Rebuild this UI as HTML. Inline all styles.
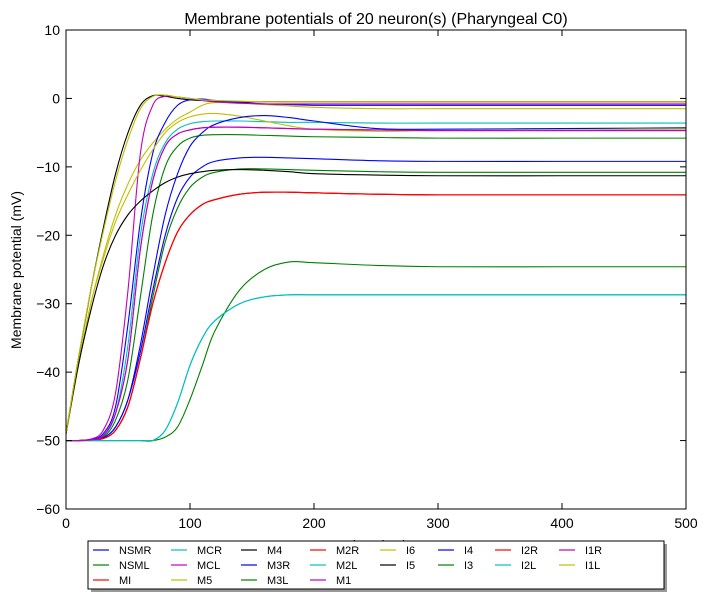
<!DOCTYPE html>
<html><head><meta charset="utf-8"><style>
body{margin:0;background:#fff;}
svg{display:block;font-family:"Liberation Sans",sans-serif;}
</style></head><body>
<svg id="chart" width="708" height="600">
<rect width="708" height="600" fill="#fff"/>
<text x="376" y="24" text-anchor="middle" font-size="16">Membrane potentials of 20 neuron(s) (Pharyngeal C0)</text>
<text x="376" y="550" text-anchor="middle" font-size="14">Time (ms)</text>
<text transform="translate(21,270) rotate(-90)" text-anchor="middle" font-size="14">Membrane potential (mV)</text>
<g id="plot"></g>
<g id="axes"></g>
<g id="legend"></g>
</svg>
<script>
const times = [0,10,20,30,40,50,60,70,80,90,100,110,120,140,160,180,200,250,300,400,500];
const seriesNames = ["NSMR","NSML","MI","MCR","MCL","M5","M4","M3R","M3L","M2R","M2L","M1","I6","I5","I4","I3","I2R","I2L","I1R","I1L"];
const seriesColors = ["#0000ff","#008000","#ff0000","#00bfbf","#bf00bf","#bfbf00","#000000","#0000ff","#008000","#ff0000","#00bfbf","#bf00bf","#bfbf00","#000000","#0000ff","#008000","#ff0000","#00bfbf","#bf00bf","#bfbf00"];
const vNSMR = [-50,-50,-49.9,-49.6,-48,-44,-37,-28,-20,-14.5,-11.5,-10,-9.2,-8.7,-8.6,-8.7,-8.8,-9.1,-9.2,-9.2,-9.2];
const vNSML = [-50,-50,-49.9,-49.7,-48.5,-45,-38,-29,-21,-16,-13,-11.5,-10.8,-10.3,-10.3,-10.4,-10.5,-10.7,-10.8,-10.8,-10.8];
const vMI = [-50,-50,-49.9,-49.7,-48.5,-45,-38,-30,-24,-19.5,-17,-15.5,-14.8,-14,-13.7,-13.7,-13.8,-14,-14.1,-14.1,-14.1];
const vMCR = [-50,-50,-49.9,-49.3,-46,-36,-20,-11,-6.5,-4.5,-3.7,-3.4,-3.3,-3.3,-3.4,-3.5,-3.5,-3.6,-3.6,-3.6,-3.6];
const vMCL = [-50,-50,-49.9,-49.3,-46,-38,-22,-12,-7,-5.2,-4.6,-4.3,-4.2,-4.2,-4.3,-4.4,-4.5,-4.6,-4.7,-4.7,-4.7];
const vM5 = [-49,-39,-30,-23,-17,-12.5,-9,-6.5,-4.5,-3,-2,-1,-0.6,-0.7,-0.9,-1.1,-1.3,-1.5,-1.5,-1.5,-1.5];
const vM4 = [-49,-38,-28,-19,-11,-5,-1,0.4,0.3,0,-0.2,-0.3,-0.4,-0.5,-0.5,-0.5,-0.5,-0.5,-0.5,-0.5,-0.5];
const vM3R = [-50,-50,-49.8,-49,-45,-33,-18,-8,-3.5,-1,-0.2,-0.1,-0.3,-0.6,-0.8,-0.9,-1,-1,-1,-1,-1];
const vM3L = [-50,-50,-49.9,-49.5,-47,-41,-29,-17,-10,-7,-5.8,-5.4,-5.3,-5.3,-5.4,-5.5,-5.6,-5.7,-5.8,-5.8,-5.8];
const vM2R = [-50,-50,-49.9,-49.7,-48.5,-45,-38,-30,-24,-19.5,-17,-15.5,-14.8,-14,-13.7,-13.7,-13.8,-14,-14.1,-14.1,-14.1];
const vM2L = [-50,-50,-50,-50,-50,-50,-50,-50,-48.5,-44.5,-39,-35,-32.5,-30,-29,-28.7,-28.7,-28.7,-28.7,-28.7,-28.7];
const vM1 = [-50,-50,-49.8,-48.5,-43,-28,-8,-1,0.3,0.2,0,-0.3,-0.5,-0.7,-0.8,-0.8,-0.8,-0.8,-0.8,-0.8,-0.8];
const vI6 = [-49,-39,-30,-23.5,-18,-14,-10.5,-7.5,-5,-3.5,-2.7,-2.3,-2.2,-2.6,-3.3,-4,-4.5,-4.8,-4.7,-4.6,-4.5];
const vI5 = [-49,-39,-31,-24.5,-20,-17,-15,-13.5,-12.3,-11.5,-11,-10.7,-10.5,-10.4,-10.5,-10.7,-11,-11.2,-11.3,-11.3,-11.3];
const vI4 = [-50,-50,-49.9,-49.6,-48,-44,-36,-26,-17,-11,-7,-5,-3.8,-2.8,-2.5,-2.8,-3.3,-4.4,-4.5,-4.4,-4.3];
const vI3 = [-50,-50,-50,-50,-50,-50,-50,-50,-49.5,-48,-44,-39,-34,-28,-25,-23.9,-24,-24.4,-24.6,-24.6,-24.6];
const vI2R = [-50,-50,-49.9,-49.7,-48.5,-45,-38,-30,-24,-19.5,-17,-15.5,-14.8,-14,-13.7,-13.7,-13.8,-14,-14.1,-14.1,-14.1];
const vI2L = [-50,-50,-50,-50,-50,-50,-50,-50,-48.5,-44.5,-39,-35,-32.5,-30,-29,-28.7,-28.7,-28.7,-28.7,-28.7,-28.7];
const vI1R = [-50,-50,-49.9,-49.3,-46,-38,-22,-12,-7,-5.2,-4.6,-4.3,-4.2,-4.2,-4.3,-4.4,-4.5,-4.6,-4.7,-4.7,-4.7];
const vI1L = [-49,-38,-28,-19.5,-12,-6,-1.5,0.3,0.5,0.2,0,-0.2,-0.3,-0.4,-0.5,-0.5,-0.5,-0.5,-0.5,-0.5,-0.5];
const seriesValues = [vNSMR,vNSML,vMI,vMCR,vMCL,vM5,vM4,vM3R,vM3L,vM2R,vM2L,vM1,vI6,vI5,vI4,vI3,vI2R,vI2L,vI1R,vI1L];
const xTicks = [0,100,200,300,400,500];
const yTicks = [10,0,-10,-20,-30,-40,-50,-60];

const NS="http://www.w3.org/2000/svg";
const L=66,R=686,T=30,B=509;
const xs=t=>L+(t-0)/(500-0)*(R-L);
const ys=v=>T+(10-v)/(10-(-60))*(B-T);
function mk(tag,attrs,parent){const e=document.createElementNS(NS,tag);for(const k in attrs)e.setAttribute(k,attrs[k]);parent.appendChild(e);return e;}
function pathFor(vals){
  const p=times.map((t,i)=>[xs(t),ys(vals[i])]);
  let d="M"+p[0][0].toFixed(2)+","+p[0][1].toFixed(2);
  for(let i=0;i<p.length-1;i++){
    const p0=p[Math.max(0,i-1)],p1=p[i],p2=p[i+1],p3=p[Math.min(p.length-1,i+2)];
    const c1=[p1[0]+(p2[0]-p0[0])/6,p1[1]+(p2[1]-p0[1])/6];
    const c2=[p2[0]-(p3[0]-p1[0])/6,p2[1]-(p3[1]-p1[1])/6];
    d+="C"+c1.map(n=>n.toFixed(2))+" "+c2.map(n=>n.toFixed(2))+" "+p2.map(n=>n.toFixed(2));
  }
  return d;
}
const plot=document.getElementById("plot");
const cp=mk("clipPath",{id:"clip"},plot);
mk("rect",{x:L,y:T,width:R-L,height:B-T},cp);
const lines=mk("g",{"clip-path":"url(#clip)"},plot);
seriesValues.forEach((vals,i)=>{
  const el=mk("path",{d:pathFor(vals),fill:"none",stroke:seriesColors[i],"stroke-width":1.1},lines);
  
  
});
const axes=document.getElementById("axes");
const frame=mk("rect",{x:L,y:T,width:R-L,height:B-T,fill:"none",stroke:"#000","stroke-width":1},axes);


xTicks.forEach(t=>{
  const x=xs(t);
  mk("line",{x1:x,x2:x,y1:B,y2:B-6,stroke:"#000"},axes);
  mk("line",{x1:x,x2:x,y1:T,y2:T+6,stroke:"#000"},axes);
  const tx=mk("text",{x:x,y:B+19,"text-anchor":"middle","font-size":14},axes);
  tx.textContent=String(t);
  
  
});
yTicks.forEach(v=>{
  const y=ys(v);
  mk("line",{x1:L,x2:L+6,y1:y,y2:y,stroke:"#000"},axes);
  mk("line",{x1:R,x2:R-6,y1:y,y2:y,stroke:"#000"},axes);
  const tx=mk("text",{x:L-6,y:y+5,"text-anchor":"end","font-size":14},axes);
  tx.textContent=String(v).replace("-","\u2212");
  
  
});
const leg=document.getElementById("legend");


mk("rect",{x:91,y:544,width:576,height:48,fill:"#999"},leg);
mk("rect",{x:88,y:541,width:576,height:48,fill:"#fff",stroke:"#000","stroke-width":1},leg);
const colLine=[93,171,241,310,380,438,495,559];
const rowY=[550,565,580];
seriesNames.forEach((n,i)=>{
  let c,r;
  if(i<12){c=Math.floor(i/3);r=i%3;}else{c=4+Math.floor((i-12)/2);r=(i-12)%2;}
  const g=mk("g",{},leg);
  
  
  mk("line",{x1:colLine[c],x2:colLine[c]+16,y1:rowY[r],y2:rowY[r],stroke:seriesColors[i],"stroke-width":1.2},g);
  const t=mk("text",{x:colLine[c]+26,y:rowY[r]+4,"font-size":11},g);
  t.textContent=n;
});
</script>
</body></html>
